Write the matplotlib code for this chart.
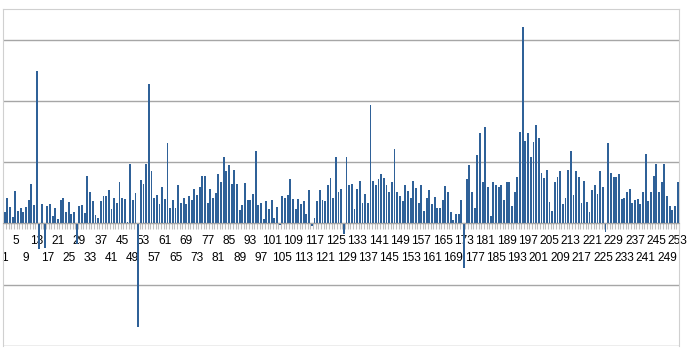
import matplotlib
matplotlib.use("Agg")
import matplotlib.pyplot as plt
import numpy as np

# one value per category (grid step = 1 unit)
values = [
    0.19, 0.42, 0.27, 0.11, 0.53, 0.20, 0.25, 0.19, 0.27, 0.38,
    0.65, 0.30, 2.49, -0.42, 0.32, -0.40, 0.28, 0.31, 0.12, 0.25,
    0.07, 0.38, 0.42, 0.18, 0.35, 0.15, 0.19, -0.34, 0.28, 0.30,
    0.17, 0.78, 0.52, 0.37, 0.13, 0.09, 0.36, 0.44, 0.44, 0.54,
    0.23, 0.41, 0.34, 0.68, 0.41, 0.40, 0.02, 0.97, 0.38, 0.49,
    -1.69, 0.71, 0.65, 0.97, 2.28, 0.86, 0.41, 0.47, 0.32, 0.60,
    0.40, 1.32, 0.26, 0.38, 0.26, 0.63, 0.34, 0.42, 0.31, 0.44,
    0.39, 0.56, 0.47, 0.60, 0.77, 0.77, 0.33, 0.57, 0.42, 0.49,
    0.81, 0.68, 1.09, 0.86, 0.96, 0.65, 0.88, 0.65, 0.22, 0.30,
    0.66, 0.39, 0.38, 0.48, 1.18, 0.30, 0.34, 0.08, 0.37, 0.23,
    0.38, 0.09, 0.27, -0.02, 0.44, 0.42, 0.46, 0.72, 0.40, 0.23,
    0.40, 0.31, 0.37, 0.16, 0.55, -0.04, 0.09, 0.37, 0.55, 0.38,
    0.37, 0.63, 0.74, 0.41, 1.08, 0.51, 0.56, -0.17, 1.09, 0.63,
    0.64, 0.24, 0.56, 0.70, 0.33, 0.48, 0.33, 1.93, 0.70, 0.62,
    0.72, 0.81, 0.74, 0.63, 0.52, 0.67, 1.22, 0.52, 0.44, 0.36,
    0.62, 0.53, 0.42, 0.69, 0.58, 0.33, 0.63, 0.20, 0.41, 0.54,
    0.31, 0.43, 0.26, 0.25, 0.38, 0.61, 0.51, 0.19, 0.05, 0.15,
    0.16, 0.38, -0.73, 0.73, 0.95, 0.52, 0.26, 1.12, 1.47, 0.67,
    1.57, 0.59, 0.12, 0.67, 0.63, 0.60, 0.62, 0.39, 0.67, 0.68,
    0.29, 0.52, 0.76, 1.49, 3.20, 1.34, 1.47, 1.09, 1.33, 1.60,
    1.39, 0.83, 0.75, 0.88, 0.35, 0.20, 0.68, 0.76, 0.86, 0.31,
    0.42, 0.88, 1.18, 0.47, 0.86, 0.76, 0.34, 0.69, 0.35, 0.18,
    0.54, 0.62, 0.48, 0.85, 0.59, -0.14, 1.31, 0.83, 0.76, 0.76,
    0.80, 0.40, 0.41, 0.52, 0.56, 0.34, 0.39, 0.40, 0.31, 0.52,
    1.13, 0.37, 0.52, 0.77, 0.97, 0.51, 0.68, 0.97, 0.44, 0.29,
    0.22, 0.28, 0.67,
]
categories = np.arange(1, len(values) + 1)
top_row = categories[4::8]     # 5, 13, 21, ... 253
bottom_row = categories[0::8]  # 1, 9, 17, ... 249

ymin, ymax = -2, 3.5

plt.rcParams['font.family'] = ['Liberation Sans', 'DejaVu Sans']

fig = plt.figure(figsize=(6.97, 3.61), dpi=100)
ax = fig.add_axes([3.3 / 697, 15 / 361, 675.7 / 697, 337 / 361])

ax.bar(categories, values, width=0.7, color='#2f6198', edgecolor='none', zorder=3)

ax.set_xlim(0.5, len(values) + 0.5)
ax.set_ylim(ymin, ymax)

# horizontal grid
ax.set_yticks([-2, -1, 0, 1, 2, 3])
ax.yaxis.grid(True, color='#a6a6a6', linewidth=1.0, zorder=0)
ax.tick_params(axis='y', left=False, labelleft=False)

# category axis sits at zero
ax.spines['bottom'].set_position(('data', 0))
ax.spines['bottom'].set_color('#a6a6a6')
ax.spines['bottom'].set_zorder(4)
for s in ['top', 'left', 'right']:
    ax.spines[s].set_color('#d0d0d0')

# upper row of labels
ax.set_xticks(top_row)
ax.set_xticklabels([str(p) for p in top_row], fontsize=8.6)
ax.tick_params(axis='x', which='major', length=0, pad=8.5, colors='black')

# small boundary ticks between categories
ax.set_xticks(np.arange(0.5, len(values) + 1, 1), minor=True)
ax.tick_params(axis='x', which='minor', length=4.5, width=0.8, color='#c0c0c0', direction='out')

# lower row of labels on a second axis at the same zero line
zero_frac = (0 - ymin) / (ymax - ymin)
sec = ax.secondary_xaxis(zero_frac)
sec.set_xticks(bottom_row)
sec.set_xticklabels([str(p) for p in bottom_row], fontsize=8.6)
sec.tick_params(axis='x', which='both', length=0, pad=20.5, colors='black')
sec.xaxis.set_minor_locator(matplotlib.ticker.NullLocator())
sec.spines['bottom'].set_visible(False)

fig.savefig('out.png', dpi=100)
